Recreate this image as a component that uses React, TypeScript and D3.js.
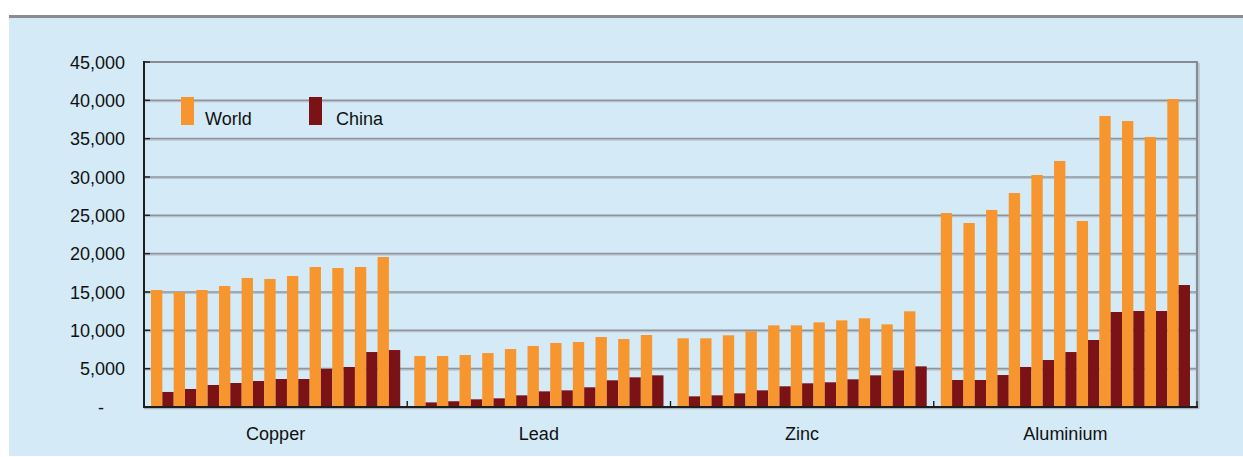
import React from "react";
import * as d3 from "d3";

const metals = ["Copper", "Lead", "Zinc", "Aluminium"];
const periods = d3.range(11);
const seriesNames = ["World", "China"];

const worldCopper = [15260, 15000, 15260, 15780, 16830, 16700, 17090, 18260, 18130, 18260, 19565];
const chinaCopper = [1960, 2350, 2870, 3130, 3390, 3650, 3650, 4960, 5220, 7170, 7430];
const worldLead = [6650, 6650, 6780, 7040, 7560, 7960, 8350, 8480, 9130, 8870, 9390];
const chinaLead = [600, 750, 1000, 1130, 1520, 2040, 2170, 2570, 3480, 3870, 4130];
const worldZinc = [8960, 8960, 9350, 9870, 10650, 10650, 11040, 11300, 11570, 10780, 12480];
const chinaZinc = [1390, 1520, 1780, 2170, 2700, 3090, 3220, 3610, 4130, 4780, 5300];
const worldAluminium = [25300, 24000, 25700, 27910, 30260, 32090, 24260, 37960, 37300, 35220, 40170];
const chinaAluminium = [3520, 3520, 4170, 5220, 6130, 7170, 8740, 12390, 12520, 12520, 15910];

const yTicks = [0, 5000, 10000, 15000, 20000, 25000, 30000, 35000, 40000, 45000];

const worldByMetal = [worldCopper, worldLead, worldZinc, worldAluminium];
const chinaByMetal = [chinaCopper, chinaLead, chinaZinc, chinaAluminium];

const W = 1243;
const H = 457;
const left = 144;
const right = 1197;
const top = 62;
const bottom = 407;
const colors = ["#F7962E", "#7B1215"];
const font = "'Liberation Sans', Arial, sans-serif";

export default function App() {
  const y = d3.scaleLinear().domain([0, 45000]).range([bottom, top]);
  const xGroup = d3.scaleBand<string>().domain(metals).range([left, right]).paddingInner(0).paddingOuter(0);
  const xPeriod = d3
    .scaleBand<number>()
    .domain(periods)
    .range([0, xGroup.bandwidth()])
    .paddingInner(0)
    .paddingOuter(0.31);
  const xSeries = d3.scaleBand<string>().domain(seriesNames).range([0, xPeriod.bandwidth()]).padding(0);

  const fmt = d3.format(",");

  const bars: JSX.Element[] = [];
  metals.forEach((m, mi) => {
    const gx = xGroup(m)!;
    periods.forEach((p) => {
      const px = gx + xPeriod(p)!;
      [worldByMetal[mi][p], chinaByMetal[mi][p]].forEach((v, si) => {
        const x0 = px + xSeries(seriesNames[si])!;
        bars.push(
          <rect
            key={`${m}-${p}-${si}`}
            x={x0}
            y={y(v)}
            width={xSeries.bandwidth()}
            height={y(0) - y(v)}
            fill={colors[si]}
          />
        );
      });
    });
  });

  const groupEdges = metals.map((m) => xGroup(m)!).concat([right]);

  return (
    <svg
      width={W}
      height={H}
      style={{ position: "absolute", left: 0, top: 0, background: "#fff" }}
      fontFamily={font}
    >
      <rect x={9} y={17} width={W - 9} height={456 - 17} fill="#D4EAF7" />
      <line x1={9} x2={W} y1={16.5} y2={16.5} stroke="#8A8C90" strokeWidth={3} />

      {/* gridlines */}
      {yTicks.slice(1, -1).map((t) => (
        <g key={t}>
          <line x1={left} x2={right} y1={y(t) + 1.5} y2={y(t) + 1.5} stroke="#B9C6D0" strokeWidth={1} />
          <line x1={left} x2={right} y1={y(t)} y2={y(t)} stroke="#8F949A" strokeWidth={1.6} />
        </g>
      ))}

      {bars}

      {/* plot border: top and right gray */}
      <line x1={left} x2={right + 1} y1={top} y2={top} stroke="#878B92" strokeWidth={2} />
      <line x1={right + 2} x2={right + 2} y1={top + 1} y2={bottom + 2} stroke="#B5C2CC" strokeWidth={1.5} />
      <line x1={right} x2={right} y1={top - 1} y2={bottom} stroke="#878B92" strokeWidth={2.2} />

      {/* x axis */}
      <line x1={left} x2={right + 1} y1={bottom + 1.6} y2={bottom + 1.6} stroke="#A8B2BA" strokeWidth={1.2} />
      <line x1={left - 1} x2={right + 1} y1={bottom} y2={bottom} stroke="#1E1E1E" strokeWidth={2} />
      {groupEdges.map((gx, i) => (
        <line key={i} x1={gx} x2={gx} y1={bottom} y2={bottom - 6} stroke="#1E1E1E" strokeWidth={1.4} />
      ))}
      {metals.map((m) => (
        <text
          key={m}
          x={xGroup(m)! + xGroup.bandwidth() / 2}
          y={440}
          textAnchor="middle"
          fontSize={18}
          fill="#111"
        >
          {m}
        </text>
      ))}

      {/* y axis */}
      <line x1={left} x2={left} y1={top - 1} y2={bottom + 1} stroke="#1E1E1E" strokeWidth={2} />
      {yTicks.map((t) => (
        <g key={t}>
          <line x1={left} x2={left + 6} y1={y(t)} y2={y(t)} stroke="#1E1E1E" strokeWidth={1.4} />
          <text
            x={t === 0 ? 104 : 125}
            y={y(t) + 6.5}
            textAnchor="end"
            fontSize={18}
            fill="#111"
          >
            {t === 0 ? "-" : fmt(t)}
          </text>
        </g>
      ))}

      {/* legend */}
      {seriesNames.map((s, i) => (
        <g key={s} transform={`translate(${181 + i * 128},97)`}>
          <rect x={0} y={0} width={13} height={28} fill={colors[i]} />
          <text x={24 + i * 3} y={28} fontSize={18} fill="#111">
            {s}
          </text>
        </g>
      ))}
    </svg>
  );
}
